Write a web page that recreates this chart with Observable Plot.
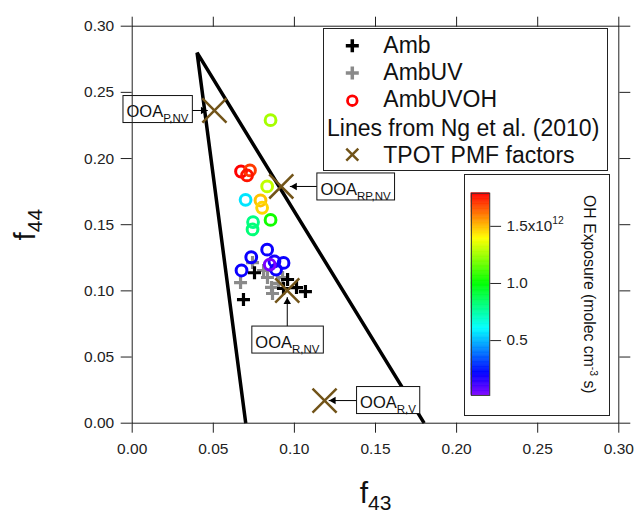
<!DOCTYPE html>
<html>
<head>
<meta charset="utf-8">
<script src="https://cdn.jsdelivr.net/npm/d3@7"></script>
<script src="https://cdn.jsdelivr.net/npm/@observablehq/plot@0.6"></script>
<style>
  html, body { margin: 0; padding: 0; background: #fff; }
  #wrap { position: relative; width: 635px; height: 513px; overflow: hidden; font-family: "Liberation Sans", Arial, sans-serif; }
  #wrap > svg { position: absolute; left: 0; top: 0; }
  .box { position: absolute; background: #fff; border: 1px solid #222; box-sizing: border-box; }
  .box svg { position: absolute; left: -1px; top: -1px; overflow: visible; }
</style>
</head>
<body>
<div id="wrap"></div>
<script>
// ---------------- data ----------------
// Amb (black plus)
const ambX = [0.0754, 0.0686, 0.0958, 0.0933, 0.1013, 0.1068];
const ambY = [0.1137, 0.0934, 0.1086, 0.1018, 0.1025, 0.0995];
// AmbUV (gray plus)
const uvX = [0.0668, 0.0742, 0.0810, 0.0834, 0.0859, 0.0865, 0.0902, 0.0927];
const uvY = [0.1063, 0.1214, 0.1154, 0.1101, 0.1026, 0.0980, 0.1056, 0.1101];
// AmbUVOH (open circles coloured by OH exposure, molec cm-3 s)
const ohX = [0.0853, 0.0671, 0.0726, 0.0708, 0.0832, 0.0699, 0.0791, 0.0801, 0.0745, 0.0742, 0.0853, 0.0674, 0.0734, 0.0832, 0.0877, 0.0887, 0.0933, 0.0848];
const ohY = [0.2290, 0.1902, 0.1910, 0.1872, 0.1789, 0.1688, 0.1683, 0.1628, 0.1520, 0.1464, 0.1536, 0.1154, 0.1254, 0.1311, 0.1222, 0.1161, 0.1211, 0.1199];
const ohExp = [1.26e12, 1.79e12, 1.70e12, 1.76e12, 1.30e12, 0.57e12, 1.49e12, 1.46e12, 0.80e12, 0.82e12, 1.03e12, 0.20e12, 0.20e12, 0.20e12, 0.18e12, 0.20e12, 0.20e12, 0.03e12];
// Lines from Ng et al. (2010): triangle
const ngX = [0.070, 0.040, 0.180];
const ngY = [0.000, 0.280, 0.000];
// TPOT PMF factors
const pmfNames = ["P,NV", "RP,NV", "R,NV", "R,V"];
const pmfX = [0.0507, 0.0919, 0.0956, 0.1186];
const pmfY = [0.2363, 0.1789, 0.1003, 0.0171];
// annotation label centres
const labelX = [0.0156, 0.1377, 0.0957, 0.1577];
const labelY = [0.2374, 0.1789, 0.0632, 0.0175];
// ticks
const xTicks = [0, 0.05, 0.10, 0.15, 0.20, 0.25, 0.30];
const yTicks = [0, 0.05, 0.10, 0.15, 0.20, 0.25, 0.30];
const cbTicks = [0.5e12, 1.0e12, 1.5e12];
const cbDomain = [0.02e12, 1.79e12];
const legendLabels = ["Amb", "AmbUV", "AmbUVOH", "Lines from Ng et al. (2010)", "TPOT PMF factors"];

// ---------------- styles ----------------
const FONT = '"Liberation Sans", Arial, sans-serif';
const BROWN = "#725419";
const GRAY = "#8a8a8a";
const headDir = ["right", "left", "up", "left"];
const arrowInset = [7, 9, 7, 4.5];
const NS = "http://www.w3.org/2000/svg";

const rainbow = t => d3.hsl((1 - t) * 270, 1, 0.5).formatHex();
const colorOpts = {type: "linear", domain: cbDomain, interpolate: rainbow};

const plusSymbol = {
  draw(ctx, size) {
    const r = Math.sqrt(size / Math.PI);
    ctx.moveTo(-r, 0); ctx.lineTo(r, 0);
    ctx.moveTo(0, -r); ctx.lineTo(0, r);
  }
};

const arrowStartX = pmfX.map((x, i) => headDir[i] === "up" ? x : labelX[i]);
const arrowStartY = pmfY.map((y, i) => headDir[i] === "up" ? labelY[i] : y);
const TIP = 4.35;

const arrowMarks = pmfNames.map((_, i) => Plot.arrow([i], {
  x1: arrowStartX[i], y1: arrowStartY[i], x2: pmfX[i], y2: pmfY[i],
  insetEnd: arrowInset[i], headLength: 0, stroke: "#000", strokeWidth: 1
}));
const headMarks = pmfNames.map((_, i) => {
  const d = headDir[i];
  const off = arrowInset[i] + TIP;
  return Plot.dot([i], {
    x: pmfX[i], y: pmfY[i], symbol: "triangle", r: 2.8, fill: "#000", stroke: "none",
    rotate: d === "right" ? 90 : d === "left" ? -90 : 0,
    dx: d === "right" ? -off : d === "left" ? off : 0,
    dy: d === "up" ? off : 0
  });
});

const plot = Plot.plot({
  width: 635, height: 513,
  marginLeft: 131.7, marginRight: 16.7, marginTop: 25.7, marginBottom: 90.3,
  x: {domain: [0, 0.30]},
  y: {domain: [0, 0.30]},
  color: colorOpts,
  style: {background: "#fff", color: "#222", fontFamily: FONT, fontSize: "15px"},
  marks: [
    Plot.line(ngX, {x: ngX, y: ngY, stroke: "#000", strokeWidth: 3.5, strokeLinejoin: "miter", strokeLinecap: "butt"}),
    Plot.dot(uvX, {x: uvX, y: uvY, symbol: plusSymbol, r: 6.5, stroke: GRAY, strokeWidth: 3.2, fill: "none"}),
    Plot.dot(ambX, {x: ambX, y: ambY, symbol: plusSymbol, r: 6.5, stroke: "#000", strokeWidth: 3.2, fill: "none"}),
    Plot.dot(ohX, {x: ohX, y: ohY, stroke: ohExp, r: 5.4, strokeWidth: 3, fill: "none"}),
    ...arrowMarks,
    ...headMarks,
    Plot.dot(pmfX, {x: pmfX, y: pmfY, symbol: "times", r: 11, stroke: BROWN, strokeWidth: 2.5}),
    Plot.text(pmfNames, {x: labelX, y: labelY, text: d => d, fontSize: 16.5, fill: "#111", textAnchor: "middle", lineAnchor: "middle", ariaDescription: "anno"}),
    Plot.frame({stroke: "#222", strokeWidth: 1}),
    Plot.axisX({ticks: xTicks, anchor: "bottom", tickSize: 10, tickPadding: 10, tickFormat: d3.format(".2f"), label: null, fontSize: 15.5}),
    Plot.axisX({ticks: xTicks, anchor: "top", tickSize: 10, tickFormat: () => "", label: null}),
    Plot.axisY({ticks: yTicks, anchor: "left", tickSize: 11, tickPadding: 7, tickFormat: d3.format(".2f"), label: null, fontSize: 15.5}),
    Plot.axisY({ticks: yTicks, anchor: "right", tickSize: 11, tickFormat: () => "", label: null}),
    Plot.text(["f"], {frameAnchor: "bottom", text: d => d, dy: 70, fontSize: 30, textAnchor: "middle", lineAnchor: "middle", fill: "#111", ariaDescription: "xlabel"}),
    Plot.text(["f"], {frameAnchor: "left", text: d => d, dx: -106.6, rotate: -90, fontSize: 30, textAnchor: "middle", lineAnchor: "middle", fill: "#111", ariaDescription: "ylabel"})
  ]
});

const wrap = document.getElementById("wrap");
wrap.appendChild(plot);

function setParts(textEl, parts) {
  if (!textEl) return;
  textEl.textContent = "";
  for (const p of parts) {
    const ts = document.createElementNS(NS, "tspan");
    if (p.dy != null) ts.setAttribute("dy", p.dy);
    if (p.size != null) ts.setAttribute("font-size", p.size);
    ts.textContent = p.t;
    textEl.appendChild(ts);
  }
}
function findTexts(root, key, fallbackText) {
  let list = Array.from(root.querySelectorAll(`[aria-description="${key}"] text`));
  if (!list.length && fallbackText) list = Array.from(root.querySelectorAll("text")).filter(t => fallbackText(t.textContent));
  return list;
}

// annotation boxes with subscripts
findTexts(plot, "anno", s => pmfNames.includes(s)).forEach(t => {
  const sub = t.textContent;
  setParts(t, [{t: "OOA"}, {t: sub, dy: 5, size: 11.5}]);
  t.setAttribute("dy", "3");
  const bb = t.getBBox();
  const r = document.createElementNS(NS, "rect");
  r.setAttribute("x", bb.x - 3.5);
  r.setAttribute("width", bb.width + 7);
  r.setAttribute("y", -13.5);
  r.setAttribute("height", 27);
  r.setAttribute("fill", "#fff");
  r.setAttribute("stroke", "#111");
  r.setAttribute("stroke-width", 1);
  const tr = t.getAttribute("transform");
  if (tr) r.setAttribute("transform", tr);
  t.parentNode.insertBefore(r, t);
});

// axis titles with subscripts
setParts(findTexts(plot, "xlabel")[0], [{t: "f"}, {t: "43", dy: 7, size: 21}]);
setParts(findTexts(plot, "ylabel")[0], [{t: "f"}, {t: "44", dy: 7, size: 21}]);

// ---------------- legend ----------------
const legDiv = document.createElement("div");
legDiv.className = "box";
Object.assign(legDiv.style, {left: "322.7px", top: "28.3px", width: "285px", height: "142.4px"});
wrap.appendChild(legDiv);
const leg = d3.select(legDiv).append("svg").attr("width", 285).attr("height", 143)
  .style("font-family", FONT).style("font-size", "23px");
const symX = 29.3;
const rowsY = [17.7, 45, 72.7, null, 126.7];
const baseY = [24.7, 51.7, 78.7, 107.7, 134.7];
function plusPath(cx, cy, a) { return `M${cx - a},${cy}H${cx + a}M${cx},${cy - a}V${cy + a}`; }
leg.append("path").attr("d", plusPath(symX, rowsY[0], 6.5)).attr("stroke", "#000").attr("stroke-width", 3.5);
leg.append("path").attr("d", plusPath(symX, rowsY[1], 6.5)).attr("stroke", GRAY).attr("stroke-width", 3.5);
leg.append("circle").attr("cx", symX).attr("cy", rowsY[2]).attr("r", 4.8).attr("fill", "none").attr("stroke", "#ff0000").attr("stroke-width", 2.8);
leg.append("path").attr("d", `M${symX - 6},${rowsY[4] - 6}L${symX + 6},${rowsY[4] + 6}M${symX - 6},${rowsY[4] + 6}L${symX + 6},${rowsY[4] - 6}`)
  .attr("stroke", BROWN).attr("stroke-width", 2.5);
legendLabels.forEach((lab, i) => {
  leg.append("text").attr("x", i === 3 ? 4 : 60.3).attr("y", baseY[i]).attr("fill", "#111").text(lab);
});

// ---------------- colour bar ----------------
const cbDiv = document.createElement("div");
cbDiv.className = "box";
Object.assign(cbDiv.style, {left: "464px", top: "174px", width: "146px", height: "242px"});
wrap.appendChild(cbDiv);
const nSlices = 160;
const slices = d3.range(nSlices).map(i => [
  cbDomain[0] + (cbDomain[1] - cbDomain[0]) * i / nSlices,
  cbDomain[0] + (cbDomain[1] - cbDomain[0]) * (i + 1) / nSlices
]);
const cb = Plot.plot({
  width: 146, height: 242,
  marginLeft: 7, marginRight: 120.4, marginTop: 19, marginBottom: 18,
  x: {domain: [0, 1], axis: null},
  y: {domain: cbDomain, axis: null},
  color: colorOpts,
  style: {background: "transparent", color: "#222", fontFamily: FONT, fontSize: "15px"},
  marks: [
    Plot.rect(slices, {x1: 0, x2: 1, y1: d => d[0], y2: d => d[1], fill: d => (d[0] + d[1]) / 2, stroke: d => (d[0] + d[1]) / 2, strokeWidth: 0.6}),
    Plot.frame({stroke: "#333", strokeWidth: 1}),
    Plot.axisY({ticks: cbTicks, anchor: "right", tickSize: 11, tickPadding: 6, fontSize: 15.5,
      tickFormat: d => d === 1.5e12 ? "1.5x10" : d3.format(".1f")(d / 1e12), label: null}),
    Plot.text(["OH Exposure (molec cm"], {frameAnchor: "right", text: d => d, dx: 100.4, rotate: 90, fontSize: 16,
      textAnchor: "middle", lineAnchor: "middle", fill: "#111", ariaDescription: "cbtitle"})
  ]
});
cbDiv.appendChild(cb);
cb.querySelectorAll("text").forEach(t => {
  if (t.textContent === "1.5x10") setParts(t, [{t: "1.5x10"}, {t: "12", dy: -7, size: 10.5}]);
});
setParts(findTexts(cb, "cbtitle", s => s === "OH Exposure (molec cm")[0],
  [{t: "OH Exposure (molec cm"}, {t: "-3", dy: -6, size: 10.5}, {t: " s)", dy: 6}]);
</script>
</body>
</html>
